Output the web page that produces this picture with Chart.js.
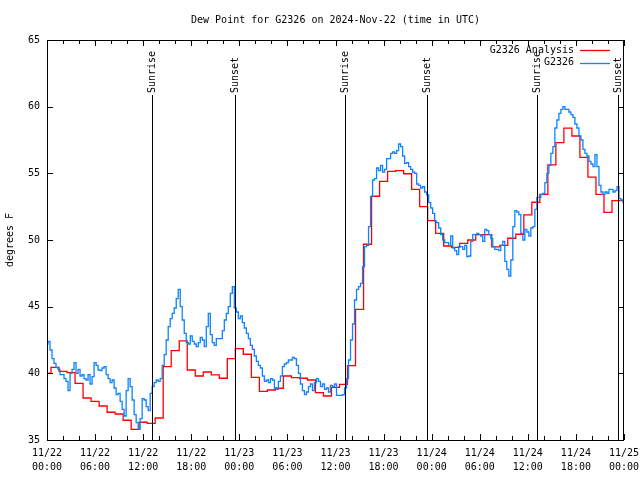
<!DOCTYPE html>
<html><head><meta charset="utf-8">
<script src="https://cdn.jsdelivr.net/npm/chart.js@4/dist/chart.umd.min.js"></script>
<style>html,body{margin:0;padding:0;background:#fff}</style>
</head><body>
<canvas id="c" width="640" height="480"></canvas>
<script>
const FONT = "'DejaVu Sans Mono', 'Liberation Mono', monospace";
const titleText = 'Dew Point for G2326 on 2024-Nov-22 (time in UTC)';
const yTitle = 'degrees F';
const startMonth = 11, startDay = 22;
const seriesNames = ['G2326 Analysis', 'G2326'];

// Analysis (hourly, hours since 11/22 00:00)
const analysisValues = [
  40.0, 40.45, 40.15, 40.05, 39.25, 38.15, 37.9, 37.55, 37.08, 36.95, 36.48, 35.8,
  36.33, 36.25, 36.65, 40.5, 41.7, 42.43, 40.25, 39.8, 40.1, 39.88, 39.63, 41.1,
  41.85, 41.43, 39.7, 38.65, 38.75, 38.88, 39.8, 39.68, 39.63, 39.5, 38.55, 38.3,
  38.95, 39.17, 40.58, 44.8, 49.68, 53.28, 54.4, 55.15, 55.2, 54.97, 53.8, 52.5,
  51.45, 50.5, 49.55, 49.45, 49.75, 50.0, 50.4, 50.4, 49.48, 49.6, 50.13, 50.43,
  51.89, 52.83, 53.42, 55.64, 57.3, 58.39, 57.8, 56.2, 54.72, 53.42, 52.07, 52.96,
  52.96
];
const analysisStepHours = 1;

// Observations (every 15 minutes)
const obsStepHours = 0.25;
const obsValues = [
  42.2, 42.4, 41.75, 41.1, 40.75, 40.45, 40.3, 39.9,
  39.9, 39.6, 39.4, 38.7, 40.0, 40.3, 40.8, 40.0,
  40.3, 39.8, 39.9, 39.6, 39.5, 39.9, 39.2, 39.75,
  40.8, 40.6, 40.25, 40.2, 40.4, 40.5, 39.9, 39.6,
  39.3, 39.5, 38.9, 38.4, 38.5, 37.9, 37.3, 36.8,
  38.7, 39.6, 39.0, 38.0, 36.9, 36.3, 35.8, 36.6,
  38.1, 38.0, 37.5, 37.2, 38.5, 39.0, 39.3, 39.5,
  39.4, 39.6, 40.6, 41.4, 42.5, 43.5, 44.1, 44.5,
  44.9, 45.6, 46.3, 45.0, 44.0, 43.0, 42.3, 42.2,
  42.8, 42.4, 42.2, 42.0, 42.3, 42.7, 42.5, 42.0,
  43.5, 44.5, 42.9, 42.3, 42.1, 42.6, 42.6, 42.6,
  43.2, 44.0, 44.5, 45.0, 46.0, 46.5, 44.9, 44.6,
  44.1, 44.3, 43.8, 43.4, 43.0, 42.6, 42.1, 41.8,
  41.3, 40.9, 40.6, 40.4, 39.8, 39.4, 39.5, 39.3,
  39.6, 39.5, 38.9, 38.8, 39.4, 39.8, 40.5, 40.7,
  40.8, 41.0, 41.0, 41.2, 41.1, 40.6, 40.0, 39.2,
  38.7, 38.4, 38.6, 39.0, 39.2, 38.7, 39.3, 39.6,
  39.4, 39.0, 39.2, 38.8, 38.9, 38.6, 39.1, 39.0,
  39.2, 38.35, 38.35, 38.35, 38.4, 38.9, 39.6, 41.0,
  42.5, 43.7, 45.5, 46.3, 46.5, 46.75, 48.0, 49.5,
  49.6, 51.0, 53.25, 54.5, 54.6, 55.4, 55.2, 55.6,
  55.1, 55.3, 56.1, 56.1, 56.5, 56.6, 56.5, 56.7,
  57.2, 57.0, 56.3, 55.75, 55.8, 55.5, 55.3, 55.1,
  55.0, 54.2, 54.1, 53.9, 54.0, 53.6, 53.4, 52.8,
  52.4, 52.0, 51.4, 51.3, 50.9, 50.4, 50.0, 49.8,
  49.8, 49.6, 50.3, 49.4, 49.2, 48.9, 49.5, 49.5,
  49.3, 49.6, 48.75, 48.8, 49.9, 50.4, 50.4, 50.5,
  50.4, 50.3, 49.9, 50.8, 50.7, 50.4, 50.1, 49.5,
  49.3, 49.3, 49.2, 49.6, 49.9, 48.4, 47.8, 47.3,
  48.5, 51.0, 52.2, 52.1, 51.9, 50.5, 50.0, 50.8,
  50.6, 50.3, 50.9, 51.0, 52.3, 53.2, 53.2, 53.4,
  53.5, 54.3, 55.0, 55.6, 56.5, 57.0, 58.4, 59.0,
  59.5, 59.8, 60.0, 59.8, 59.8, 59.6, 59.4, 59.2,
  58.7, 58.4, 57.8, 57.5, 56.8, 56.5, 56.3, 55.9,
  55.7, 55.5, 56.4, 55.5, 54.1, 53.6, 53.4, 53.6,
  53.5, 53.8, 53.8, 53.6, 53.7, 54.0, 53.1, 53.0,
  52.8
];

const sunHours = [13.1, 23.45, 37.15, 47.4, 61.15, 71.25];
const sunLabels = ['Sunrise', 'Sunset', 'Sunrise', 'Sunset', 'Sunrise', 'Sunset'];

const xMin = 0, xMax = 72, xMajorStep = 6, xMinorStep = 2;
const yMin = 35, yMax = 65, yStep = 5;

const analysisData = analysisValues.map((v, i) => ({x: i * analysisStepHours, y: v}));
const obsData = obsValues.map((v, i) => ({x: i * obsStepHours, y: v}));

function pad2(n) { return (n < 10 ? '0' : '') + n; }
function fmtTime(v) {
  const day = startDay + Math.floor(v / 24);
  const hr = Math.round(v % 24);
  return [startMonth + '/' + pad2(day), pad2(hr) + ':00'];
}

const decor = {
  id: 'decor',
  afterDatasetsDraw(chart) {
    const ctx = chart.ctx, a = chart.chartArea;
    const xs = chart.scales.x, ys = chart.scales.y;
    ctx.save();
    ctx.font = '10px ' + FONT;
    ctx.fillStyle = '#000';
    ctx.strokeStyle = '#000';
    // sun lines and labels (labels anchored at their start, reading upward)
    ctx.lineWidth = 1;
    const labelBase = a.top + 53;
    sunHours.forEach((h, i) => {
      const x = Math.round(xs.getPixelForValue(h)) + 0.5;
      ctx.beginPath();
      ctx.moveTo(x, a.bottom);
      ctx.lineTo(x, labelBase + 2);
      ctx.stroke();
      ctx.save();
      ctx.translate(x, labelBase);
      ctx.rotate(-Math.PI / 2);
      ctx.textAlign = 'left';
      ctx.textBaseline = 'middle';
      ctx.fillText(sunLabels[i], 0, 0);
      ctx.restore();
    });
    // frame
    ctx.lineWidth = 1;
    ctx.strokeRect(Math.round(a.left) + 0.5, Math.round(a.top) + 0.5,
                   Math.round(a.right - a.left) - 1, Math.round(a.bottom - a.top));
    // ticks
    ctx.beginPath();
    for (let v = xMin; v <= xMax; v += xMinorStep) {
      const x = Math.round(xs.getPixelForValue(v)) + 0.5;
      const len = (v % xMajorStep === 0) ? 6 : 4;
      ctx.moveTo(x, a.bottom); ctx.lineTo(x, a.bottom - len);
      ctx.moveTo(x, a.top); ctx.lineTo(x, a.top + len);
    }
    for (let v = yMin; v <= yMax; v += yStep) {
      const y = Math.round(ys.getPixelForValue(v)) + 0.5;
      ctx.moveTo(a.left, y); ctx.lineTo(a.left + 6, y);
      ctx.moveTo(a.right, y); ctx.lineTo(a.right - 6, y);
    }
    ctx.stroke();
    // title
    ctx.textAlign = 'center';
    ctx.textBaseline = 'middle';
    ctx.fillText(titleText, (a.left + a.right) / 2, 20);
    // legend
    const colors = ['#ff0000', '#0a84ff'];
    ctx.textAlign = 'right';
    seriesNames.forEach((n, i) => {
      const y = a.top + 10 + i * 12.5;
      ctx.fillStyle = '#000';
      ctx.fillText(n, a.right - 50, y);
      ctx.strokeStyle = colors[i];
      ctx.lineWidth = 1.3;
      ctx.beginPath();
      ctx.moveTo(a.right - 44, Math.round(y) + 0.5);
      ctx.lineTo(a.right - 14, Math.round(y) + 0.5);
      ctx.stroke();
    });
    ctx.restore();
  }
};

const tickFont = {family: FONT, size: 10, lineHeight: 1.4};

new Chart(document.getElementById('c'), {
  type: 'line',
  data: {
    datasets: [
      {label: seriesNames[0], data: analysisData, borderColor: '#ff0000', borderWidth: 1.3,
       pointRadius: 0, stepped: 'middle', order: 2},
      {label: seriesNames[1], data: obsData, borderColor: '#0a84ff', borderWidth: 1.3,
       pointRadius: 0, stepped: 'middle', order: 1}
    ]
  },
  options: {
    responsive: false,
    animation: false,
    devicePixelRatio: 1,
    layout: {padding: {left: 0, right: 16, top: 40, bottom: 0}},
    plugins: {legend: {display: false}, title: {display: false}, tooltip: {enabled: false}},
    scales: {
      x: {
        type: 'linear', min: xMin, max: xMax,
        grid: {display: false, drawTicks: false}, border: {display: false},
        ticks: {stepSize: xMajorStep, autoSkip: false, maxRotation: 0, padding: 6,
                color: '#000', font: tickFont, callback: (v) => fmtTime(v)},
        afterFit: (s) => { s.height = 40; s.paddingLeft = 0; s.paddingRight = 0; }
      },
      y: {
        type: 'linear', min: yMin, max: yMax,
        grid: {display: false, drawTicks: false}, border: {display: false},
        ticks: {stepSize: yStep, padding: 7, color: '#000', font: {family: FONT, size: 10}},
        title: {display: true, text: yTitle, color: '#000', font: {family: FONT, size: 10},
                padding: {top: 4, bottom: 0}},
        afterFit: (s) => { s.width = 47; s.paddingTop = 0; s.paddingBottom = 0; }
      }
    }
  },
  plugins: [decor]
});
</script>
</body></html>
